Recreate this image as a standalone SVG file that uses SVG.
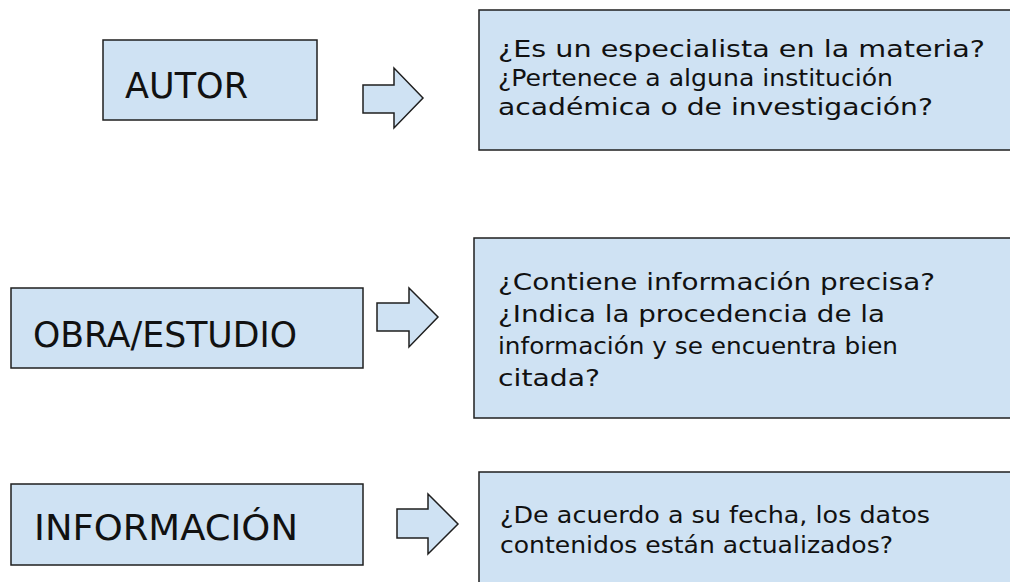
<svg xmlns="http://www.w3.org/2000/svg" width="1010" height="582" viewBox="0 0 1010 582">
<style>
.box{fill:#cfe2f3;stroke:#1f1f1f;stroke-width:1.5}
.arr{fill:#cfe2f3;stroke:#1f1f1f;stroke-width:1.5;stroke-linejoin:miter}
.lbl{font-family:"DejaVu Sans","Liberation Sans",sans-serif;font-size:36px;fill:#111}
.q{font-family:"DejaVu Sans","Liberation Sans",sans-serif;font-size:23px;fill:#111}
</style>
<rect width="1010" height="582" fill="#ffffff"/>
<g id="autor">
<rect class="box" x="103" y="40" width="214" height="80"/>
<text class="lbl" x="125" y="98" textLength="123" lengthAdjust="spacingAndGlyphs">AUTOR</text>
</g>
<g id="autor-q">
<rect class="box" x="479" y="10" width="540" height="140"/>
<text class="q" x="498" y="57" textLength="487" lengthAdjust="spacingAndGlyphs">¿Es un especialista en la materia?</text>
<text class="q" x="498" y="86" textLength="395" lengthAdjust="spacingAndGlyphs">¿Pertenece a alguna institución</text>
<text class="q" x="498" y="115" textLength="435" lengthAdjust="spacingAndGlyphs">académica o de investigación?</text>
</g>
<g id="obra">
<rect class="box" x="11" y="288" width="352" height="80"/>
<text class="lbl" x="33" y="347" textLength="264" lengthAdjust="spacingAndGlyphs">OBRA/ESTUDIO</text>
</g>
<g id="obra-q">
<rect class="box" x="474" y="238" width="545" height="180"/>
<text class="q" x="498" y="290" textLength="437" lengthAdjust="spacingAndGlyphs">¿Contiene información precisa?</text>
<text class="q" x="498" y="322" textLength="387" lengthAdjust="spacingAndGlyphs">¿Indica la procedencia de la</text>
<text class="q" x="498" y="354" textLength="400" lengthAdjust="spacingAndGlyphs">información y se encuentra bien</text>
<text class="q" x="498" y="386" textLength="102" lengthAdjust="spacingAndGlyphs">citada?</text>
</g>
<g id="info">
<rect class="box" x="11" y="484" width="352" height="81"/>
<text class="lbl" x="34" y="540" textLength="264" lengthAdjust="spacingAndGlyphs">INFORMACIÓN</text>
</g>
<g id="info-q">
<rect class="box" x="479" y="472" width="540" height="120"/>
<text class="q" x="500" y="523" textLength="430" lengthAdjust="spacingAndGlyphs">¿De acuerdo a su fecha, los datos</text>
<text class="q" x="500" y="553" textLength="393" lengthAdjust="spacingAndGlyphs">contenidos están actualizados?</text>
</g>
<g id="connectors">
<polygon class="arr" points="363,85 394,85 394,68 423,98 394,128 394,113 363,113"/>
<polygon class="arr" points="377,303 409,303 409,288 438,317 409,347 409,331 377,331"/>
<polygon class="arr" points="397,509 428,509 428,494 458,524 428,554 428,538 397,538"/>
</g>
</svg>
